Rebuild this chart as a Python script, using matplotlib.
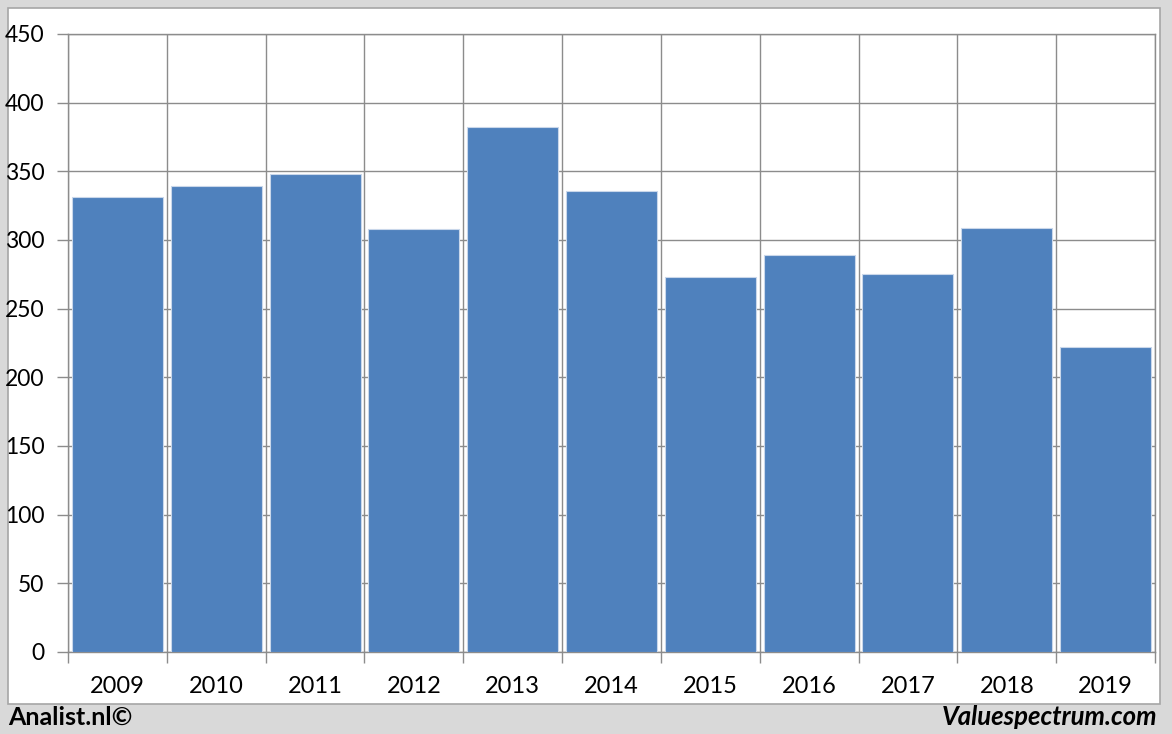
import numpy as np
import matplotlib
matplotlib.use("Agg")
import matplotlib.pyplot as plt
from matplotlib.patches import Rectangle

# values
years = ['2009', '2010', '2011', '2012', '2013', '2014',
         '2015', '2016', '2017', '2018', '2019']
values = [331, 339, 348, 308, 382, 336, 273, 289, 275, 309, 222]
y_ticks = [0, 50, 100, 150, 200, 250, 300, 350, 400, 450]

W, H = 1172, 734
plt.rcParams['font.family'] = ['Lato', 'DejaVu Sans']

fig = plt.figure(figsize=(W / 100, H / 100), dpi=100)
fig.patch.set_facecolor('#d9d9d9')

# background axes in pixel units, holds the white chart panel
bg = fig.add_axes([0, 0, 1, 1], zorder=-1)
bg.set_xlim(0, W)
bg.set_ylim(H, 0)
bg.axis('off')
bg.add_patch(Rectangle((8, 8), 1160 - 8, 704 - 8, facecolor='white',
                       edgecolor='#a6a6a6', linewidth=1.2))

ax = fig.add_axes([68 / W, 1 - 652 / H, (1155 - 68) / W, (652 - 34) / H])
ax.set_facecolor('white')
grid_c = '#8c8c8c'

x = np.arange(len(years))
ax.bar(x, values, width=0.92, color='#4f81bd', edgecolor='#c9d7ea',
       linewidth=0.8, zorder=3)

ax.set_xlim(-0.5, len(years) - 0.5)
ax.set_ylim(0, 450)
ax.set_yticks(y_ticks)
ax.set_yticklabels([str(v) for v in y_ticks])
ax.set_xticks(x)
ax.set_xticklabels(years)
ax.set_xticks(np.arange(-0.5, len(years)), minor=True)

ax.grid(axis='y', which='major', color=grid_c, linewidth=1, zorder=1)
ax.grid(axis='x', which='minor', color=grid_c, linewidth=1, zorder=1)
ax.set_axisbelow(True)

ax.tick_params(axis='x', which='major', length=0, pad=17, labelsize=17)
ax.tick_params(axis='x', which='minor', length=8, color=grid_c, width=1)
ax.tick_params(axis='y', length=8, color=grid_c, width=1, pad=9,
               labelsize=16.5)

for side in ['left', 'bottom', 'top', 'right']:
    ax.spines[side].set_color(grid_c)
    ax.spines[side].set_linewidth(1)

fig.text(8 / W, 1 - 717 / H, 'Analist.nl©', ha='left', va='center',
         fontsize=18, fontweight='bold', color='black')
fig.text(1157 / W, 1 - 717 / H, 'Valuespectrum.com', ha='right',
         va='center', fontsize=18.5, fontweight='bold', fontstyle='italic',
         color='black')

fig.savefig('out.png', dpi=100, facecolor=fig.get_facecolor())
